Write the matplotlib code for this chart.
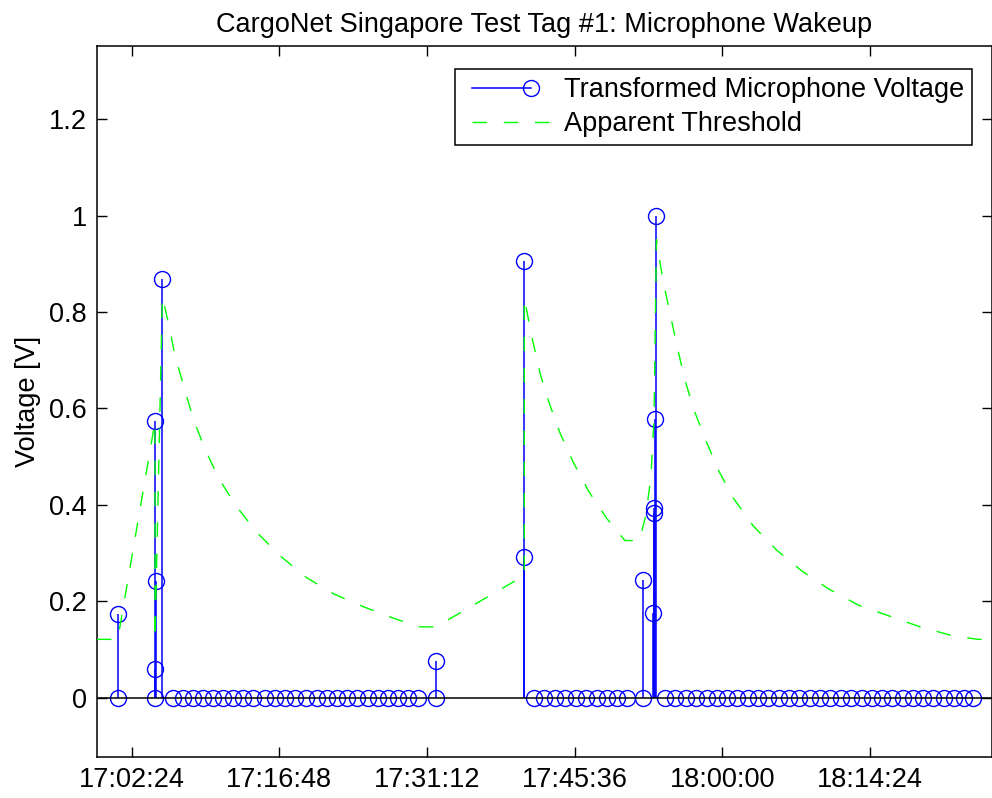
import numpy as np
import matplotlib
matplotlib.use('Agg')
import matplotlib.pyplot as plt
import matplotlib.dates as mdates
from matplotlib.lines import Line2D
from matplotlib.legend_handler import HandlerBase
from datetime import datetime

# samples where the transformed voltage was zero (about one per minute)
zero_times = ['17:01:03', '17:04:41', '17:06:28', '17:07:23', '17:08:25', '17:09:23',
              '17:10:22', '17:11:20', '17:12:19', '17:13:17', '17:14:16', '17:15:23',
              '17:16:23', '17:17:23', '17:18:22', '17:19:24', '17:20:27', '17:21:25',
              '17:22:24', '17:23:22', '17:24:24', '17:25:25', '17:26:27', '17:27:26',
              '17:28:24', '17:29:23', '17:30:21', '17:32:03',
              '17:41:38', '17:42:36', '17:43:41', '17:44:39', '17:45:42', '17:46:42',
              '17:47:45', '17:48:43', '17:49:42', '17:50:40', '17:52:14',
              '17:54:24', '17:55:23', '17:56:27', '17:57:26', '17:58:28', '17:59:27',
              '18:00:29', '18:01:27', '18:02:32', '18:03:30', '18:04:29', '18:05:31',
              '18:06:31', '18:07:30', '18:08:32', '18:09:31', '18:10:29', '18:11:32',
              '18:12:32', '18:13:35', '18:14:33', '18:15:35', '18:16:34', '18:17:35',
              '18:18:33', '18:19:35', '18:20:34', '18:21:36', '18:22:35', '18:23:33',
              '18:24:28']

# wakeup events
event_times = ['17:01:03', '17:04:40', '17:04:41', '17:04:45', '17:05:24', '17:32:03',
               '17:40:41', '17:40:41', '17:52:14', '17:53:16', '17:53:18', '17:53:22',
               '17:53:27', '17:53:29']
event_volts = [0.174, 0.573, 0.059, 0.242, 0.868, 0.076,
               0.291, 0.905, 0.244, 0.175, 0.384, 0.393,
               0.578, 1.0]

# apparent threshold
thr_times = ['16:59:00', '17:01:03', '17:04:41', '17:04:41', '17:05:24', '17:05:59',
             '17:06:38', '17:07:31', '17:08:25', '17:09:33', '17:10:55', '17:12:39',
             '17:14:36', '17:16:57', '17:19:28', '17:22:08', '17:24:58', '17:28:10',
             '17:30:31', '17:32:03', '17:34:06', '17:36:51', '17:39:41', '17:40:41',
             '17:40:41', '17:41:25', '17:42:13', '17:43:07', '17:44:10', '17:45:28',
             '17:46:56', '17:48:43', '17:50:30', '17:51:55', '17:52:33', '17:53:02',
             '17:53:20', '17:53:34', '17:53:55', '17:54:14', '17:54:53', '17:55:33',
             '17:56:17', '17:57:10', '17:58:18', '17:59:36', '18:01:04', '18:03:01',
             '18:05:18', '18:07:44', '18:10:20', '18:13:15', '18:16:11', '18:19:16',
             '18:22:21', '18:24:55', '18:26:15']
thr_volts = [0.121, 0.121, 0.573, 0.121, 0.832, 0.778,
             0.709, 0.644, 0.578, 0.516, 0.454, 0.396,
             0.343, 0.293, 0.249, 0.215, 0.189, 0.163,
             0.147, 0.147, 0.172, 0.206, 0.241, 0.253,
             0.829, 0.749, 0.673, 0.611, 0.549, 0.488,
             0.429, 0.372, 0.326, 0.326, 0.380, 0.460,
             0.580, 0.950, 0.902, 0.863, 0.798, 0.732,
             0.664, 0.600, 0.538, 0.472, 0.414, 0.356,
             0.306, 0.263, 0.226, 0.192, 0.170, 0.147,
             0.129, 0.121, 0.121]

tick_times = ['17:02:24', '17:16:48', '17:31:12', '17:45:36', '18:00:00', '18:14:24']
x_range = ['16:59:00', '18:26:15']


def t2num(lista):
    return [mdates.date2num(datetime.strptime('2010-06-01 ' + s, '%Y-%m-%d %H:%M:%S'))
            for s in lista]


DASH = (0, (10.5, 12))


class HandlerSample(HandlerBase):
    # MATLAB-like legend sample: line with optional marker at the right end
    def __init__(self, x0, x1, ls='-', marker=False, **kw):
        HandlerBase.__init__(self, **kw)
        self.x0 = x0
        self.x1 = x1
        self.ls = ls
        self.marker = marker

    def create_artists(self, legend, orig, xdescent, ydescent, width, height, fontsize, trans):
        y = (height - ydescent) / 2.0
        a = -xdescent + self.x0 * width
        b = -xdescent + self.x1 * width
        ln = Line2D([a, b], [y, y], color=orig.get_color(), lw=orig.get_linewidth(),
                    linestyle=self.ls)
        ln.set_transform(trans)
        arts = [ln]
        if self.marker:
            mk = Line2D([b], [y], color=orig.get_color(), marker='o', mfc='none',
                        ms=orig.get_markersize(), mew=1.0, linestyle='none')
            mk.set_transform(trans)
            arts.append(mk)
        return arts


FS = 19.5
plt.rcParams['font.family'] = ['Liberation Sans', 'DejaVu Sans']

fig = plt.figure(figsize=(9.92, 7.98), dpi=100)
ax = fig.add_axes([0.0975, 0.0514, 0.9022, 0.891])

t_all = np.array(t2num(zero_times + event_times))
v_all = np.array([0.0] * len(zero_times) + event_volts)

ax.vlines(t_all, 0, v_all, color='b', lw=1.1, zorder=2)
ax.plot(t_all, v_all, linestyle='none', marker='o', ms=11.5, mfc='none', mec='b',
        mew=1.0, zorder=3)
ax.axhline(0, color='k', lw=1.1, zorder=3.5)
ax.plot(t2num(thr_times), thr_volts, color=(0, 1, 0), lw=1.0,
        linestyle=DASH, zorder=4)

xl = t2num(x_range)
ax.set_xlim(xl[0], xl[1])
ax.set_ylim(-0.123, 1.352)
ax.set_xticks(t2num(tick_times))
ax.set_xticklabels(tick_times)
ax.set_yticks([0, 0.2, 0.4, 0.6, 0.8, 1.0, 1.2])
ax.set_yticklabels(['0', '0.2', '0.4', '0.6', '0.8', '1', '1.2'])
ax.tick_params(direction='in', length=7, width=1.0, top=True, right=True,
               labelsize=FS, pad=7)
for sp in ax.spines.values():
    sp.set_linewidth(1.1)

ax.set_ylabel('Voltage [V]', fontsize=FS, labelpad=6)
ax.set_title('CargoNet Singapore Test Tag #1: Microphone Wakeup', fontsize=FS, pad=10)

h_mic = Line2D([], [], color='b', lw=1.1, ms=11.5)
h_thr = Line2D([], [], color=(0, 1, 0), lw=1.0)
leg = ax.legend([h_mic, h_thr], ['Transformed Microphone Voltage', 'Apparent Threshold'],
                loc='upper right', bbox_to_anchor=(972.4 / 992, 1 - 69.0 / 798),
                bbox_transform=fig.transFigure, borderaxespad=0, fontsize=FS,
                handlelength=3.29, handletextpad=0.44, borderpad=0.3, labelspacing=0.3,
                fancybox=False, framealpha=1, edgecolor='k',
                handler_map={h_mic: HandlerSample(0.10, 0.76, marker=True),
                             h_thr: HandlerSample(0.10, 1.0, ls=DASH)})
leg.get_frame().set_linewidth(1.1)

fig.savefig('out.png', dpi=100)
